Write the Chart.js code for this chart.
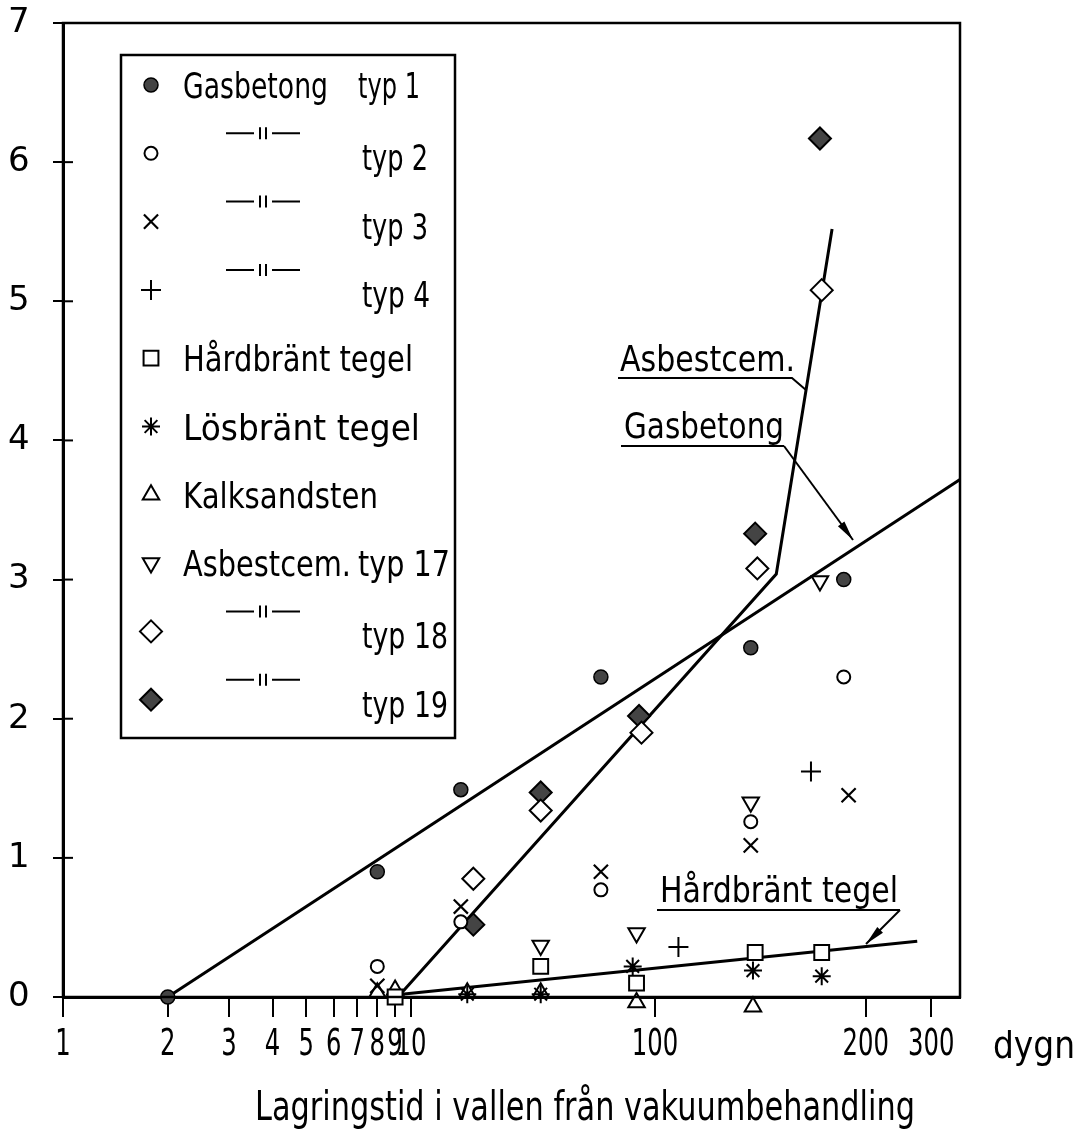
<!DOCTYPE html>
<html>
<head>
<meta charset="utf-8">
<script src="https://cdn.jsdelivr.net/npm/chart.js@4.4.1/dist/chart.umd.min.js"></script>
<style>
  html, body { margin: 0; padding: 0; background: #fff; }
  #wrap { width: 1081px; height: 1139px; position: relative; }
</style>
</head>
<body>
<div id="wrap"><canvas id="myChart"></canvas></div>
<script>
// x = days (dygn), y =
const gasTyp1Days = [2, 8, 16, 60, 137, 186];
const gasTyp1 = [0, 0.9, 1.49, 2.3, 2.51, 3.0];
const gasTyp2Days = [8, 16, 60, 137, 186];
const gasTyp2 = [0.22, 0.54, 0.77, 1.26, 2.3];
const gasTyp3Days = [8, 16, 60, 137, 189];
const gasTyp3 = [0.08, 0.65, 0.9, 1.09, 1.45];
const gasTyp4Days = [108, 167];
const gasTyp4 = [0.36, 1.62];
const hardDays = [9, 34, 84, 139, 173];
const hard = [0.0, 0.22, 0.1, 0.32, 0.32];
const losDays = [17, 34, 81, 138, 173];
const los = [0.02, 0.02, 0.22, 0.19, 0.15];
const kalkDays = [8, 9, 17, 34, 84, 138, 173];
const kalk = [0.03, 0.05, 0.03, 0.03, -0.04, -0.07, -0.17];
const asb17Days = [34, 84, 137, 172];
const asb17 = [0.37, 0.46, 1.4, 2.99];
const asb18Days = [18, 34, 88, 140, 173];
const asb18 = [0.85, 1.34, 1.9, 3.08, 5.08];
const asb19Days = [18, 34, 86, 139, 172];
const asb19 = [0.52, 1.47, 2.02, 3.33, 6.17];

// drawn trend lines
const gasLineDays = [2, 360];
const gasLine = [0, 3.72];
const asbLineDays = [9.4, 149, 179];
const asbLine = [0.03, 3.04, 5.52];
const hardLineDays = [9.4, 275];
const hardLine = [0.02, 0.40];

const tickDays = [1, 2, 3, 4, 5, 6, 7, 8, 9, 10, 100, 200, 300];
const yTicks = [0, 1, 2, 3, 4, 5, 6, 7];

const hand = "'DejaVu Sans', 'Noto Sans', sans-serif";

// the hand drawn log axis is not evenly spaced per decade, so map it piecewise
const axisLog = [0, 1, 2, Math.log10(200), Math.log10(300), Math.log10(360)];
const axisFrac = [0, 0.388, 0.660, 0.895, 0.968, 1];
const labelSqueeze = 0.64;

function dayToFrac(v) {
  const l = Math.log10(v);
  for (let i = 1; i < axisLog.length; i++) {
    if (l <= axisLog[i] || i === axisLog.length - 1) {
      const t = (l - axisLog[i - 1]) / (axisLog[i] - axisLog[i - 1]);
      return axisFrac[i - 1] + t * (axisFrac[i] - axisFrac[i - 1]);
    }
  }
}
function fracToDay(f) {
  for (let i = 1; i < axisFrac.length; i++) {
    if (f <= axisFrac[i] || i === axisFrac.length - 1) {
      const t = (f - axisFrac[i - 1]) / (axisFrac[i] - axisFrac[i - 1]);
      return Math.pow(10, axisLog[i - 1] + t * (axisLog[i] - axisLog[i - 1]));
    }
  }
}

class HandLogScale extends Chart.LogarithmicScale {
  getPixelForValue(value) {
    if (value === undefined || value === null || !(value > 0)) return this.getPixelForDecimal(0);
    return this.getPixelForDecimal(dayToFrac(value));
  }
  getValueForPixel(pixel) {
    return fracToDay(this.getDecimalForPixel(pixel));
  }
  // tall narrow lettering like the drawing
  drawLabels(chartArea) {
    const ctx = this.ctx;
    for (const item of this.getLabelItems(chartArea)) {
      const o = item.options;
      ctx.save();
      ctx.translate(o.translation[0], o.translation[1]);
      ctx.scale(labelSqueeze, 1);
      ctx.font = item.font.string;
      ctx.fillStyle = o.color;
      ctx.textAlign = o.textAlign;
      ctx.textBaseline = o.textBaseline;
      ctx.fillText(item.label, 0, item.textOffset);
      ctx.restore();
    }
  }
}
HandLogScale.id = 'handlog';
HandLogScale.defaults = Chart.LogarithmicScale.defaults;
Chart.register(HandLogScale);

function pairs(xs, ys) {
  return xs.map((x, i) => ({ x: x, y: ys[i] }));
}

function markers(label, xs, ys, style, extra) {
  return Object.assign({
    label: label,
    data: pairs(xs, ys),
    pointStyle: style,
    pointRadius: 9,
    pointBorderWidth: 2,
    pointBorderColor: '#000',
    pointBackgroundColor: '#fff',
    pointRotation: 0,
    showLine: false,
    clip: false
  }, extra || {});
}

function trend(label, xs, ys) {
  return {
    label: label,
    data: pairs(xs, ys),
    showLine: true,
    borderColor: '#000',
    borderWidth: 3,
    pointRadius: 0,
    pointHoverRadius: 0,
    clip: false
  };
}

// legend rows: text and the width it takes in the drawing
const legendRows = [
  { name: 'Gasbetong', nameW: 145, typ: 'typ 1', typW: 62 },
  { ditto: true, typ: 'typ 2', typW: 66 },
  { ditto: true, typ: 'typ 3', typW: 66 },
  { ditto: true, typ: 'typ 4', typW: 68 },
  { name: 'Hårdbränt tegel', nameW: 230 },
  { name: 'Lösbränt tegel', nameW: 237 },
  { name: 'Kalksandsten', nameW: 195 },
  { name: 'Asbestcem.', nameW: 168, typ: 'typ 17', typW: 92 },
  { ditto: true, typ: 'typ 18', typW: 86 },
  { ditto: true, typ: 'typ 19', typW: 86 }
];

function fitText(ctx, str, x, y, width, size, align) {
  ctx.save();
  ctx.font = size + 'px ' + hand;
  const sx = width / ctx.measureText(str).width;
  ctx.translate(align === 'center' ? x - width / 2 : x, y);
  ctx.scale(sx, 1);
  ctx.textAlign = 'left';
  ctx.fillText(str, 0, 0);
  ctx.restore();
}

function arrow(ctx, x1, y1, x2, y2) {
  ctx.beginPath();
  ctx.moveTo(x1, y1);
  ctx.lineTo(x2, y2);
  ctx.stroke();
  const a = Math.atan2(y2 - y1, x2 - x1);
  const len = 20, w = 4;
  ctx.beginPath();
  ctx.moveTo(x2, y2);
  ctx.lineTo(x2 - len * Math.cos(a) + w * Math.sin(a), y2 - len * Math.sin(a) - w * Math.cos(a));
  ctx.lineTo(x2 - len * Math.cos(a) - w * Math.sin(a), y2 - len * Math.sin(a) + w * Math.cos(a));
  ctx.closePath();
  ctx.fill();
}

const sketchPlugin = {
  id: 'sketch',
  afterDraw(chart) {
    const ctx = chart.ctx;
    const area = chart.chartArea;
    const ys = chart.scales.y;
    ctx.save();
    ctx.strokeStyle = '#000';
    ctx.fillStyle = '#000';

    // frame
    ctx.lineWidth = 2.5;
    ctx.strokeRect(area.left, area.top, area.right - area.left, area.bottom - area.top);

    // inner half of y ticks
    ctx.lineWidth = 2;
    for (let v = 1; v <= 6; v++) {
      const py = ys.getPixelForValue(v);
      ctx.beginPath();
      ctx.moveTo(area.left, py);
      ctx.lineTo(area.left + 10, py);
      ctx.stroke();
    }

    ctx.textBaseline = 'alphabetic';
    // unit and axis title
    fitText(ctx, 'dygn', 993, 1058, 82, 38);
    fitText(ctx, 'Lagringstid i vallen från vakuumbehandling', 585, 1120, 660, 40, 'center');

    // legend box
    ctx.lineWidth = 2.5;
    ctx.strokeRect(121, 55, 334, 683);
    legendRows.forEach((row, i) => {
      const yc = 85 + i * 68.3;
      const ds = chart.data.datasets[i];
      ctx.fillStyle = ds.pointBackgroundColor;
      ctx.strokeStyle = ds.pointBorderColor;
      ctx.lineWidth = ds.pointBorderWidth;
      Chart.helpers.drawPoint(ctx, {
        pointStyle: ds.pointStyle,
        rotation: ds.pointRotation,
        radius: ds.pointRadius,
        borderWidth: ds.pointBorderWidth
      }, 151, yc);
      ctx.fillStyle = '#000';
      ctx.strokeStyle = '#000';
      if (row.name) fitText(ctx, row.name, 183, yc + 13, row.nameW, 36);
      if (row.ditto) {
        ctx.lineWidth = 2;
        const dy = yc - 20;
        ctx.beginPath();
        ctx.moveTo(226, dy); ctx.lineTo(254, dy);
        ctx.moveTo(272, dy); ctx.lineTo(300, dy);
        ctx.moveTo(260, dy - 6); ctx.lineTo(260, dy + 6);
        ctx.moveTo(266, dy - 6); ctx.lineTo(266, dy + 6);
        ctx.stroke();
      }
      if (row.typ) fitText(ctx, row.typ, row.ditto ? 362 : 358, yc + (row.ditto ? 17 : 13), row.typW, 36);
    });

    // annotations
    ctx.lineWidth = 2;
    fitText(ctx, 'Asbestcem.', 620, 371, 175, 36);
    ctx.beginPath();
    ctx.moveTo(618, 378); ctx.lineTo(792, 378); ctx.lineTo(806, 390);
    ctx.stroke();

    fitText(ctx, 'Gasbetong', 624, 438, 160, 36);
    ctx.beginPath();
    ctx.moveTo(621, 446); ctx.lineTo(784, 446);
    ctx.stroke();
    arrow(ctx, 784, 446, 853, 540);

    fitText(ctx, 'Hårdbränt tegel', 660, 902, 238, 36);
    ctx.beginPath();
    ctx.moveTo(657, 910); ctx.lineTo(900, 910);
    ctx.stroke();
    arrow(ctx, 900, 910, 866, 944);

    ctx.restore();
  }
};

const ctx = document.getElementById('myChart');

new Chart(ctx, {
  type: 'scatter',
  data: {
    datasets: [
      markers('Gasbetong typ 1', gasTyp1Days, gasTyp1, 'circle', { pointRadius: 7, pointBackgroundColor: '#444', pointBorderWidth: 1.5 }),
      markers('Gasbetong typ 2', gasTyp2Days, gasTyp2, 'circle', { pointRadius: 6.5 }),
      markers('Gasbetong typ 3', gasTyp3Days, gasTyp3, 'crossRot', { pointRadius: 10, pointBorderWidth: 2.2 }),
      markers('Gasbetong typ 4', gasTyp4Days, gasTyp4, 'cross', { pointRadius: 10 }),
      markers('Hårdbränt tegel', hardDays, hard, 'rect', { pointRadius: 10.5 }),
      markers('Lösbränt tegel', losDays, los, 'star', { pointRadius: 9 }),
      markers('Kalksandsten', kalkDays, kalk, 'triangle', { pointRadius: 9.5 }),
      markers('Asbestcem. typ 17', asb17Days, asb17, 'triangle', { pointRadius: 9.5, pointRotation: 180 }),
      markers('Asbestcem. typ 18', asb18Days, asb18, 'rectRot', { pointRadius: 11 }),
      markers('Asbestcem. typ 19', asb19Days, asb19, 'rectRot', { pointRadius: 11, pointBackgroundColor: '#444' }),
      trend('Gasbetong', gasLineDays, gasLine),
      trend('Asbestcem.', asbLineDays, asbLine),
      trend('Hårdbränt tegel', hardLineDays, hardLine)
    ]
  },
  options: {
    responsive: true,
    maintainAspectRatio: false,
    animation: false,
    layout: { padding: { left: 8, top: 23, right: 121, bottom: 94 } },
    plugins: {
      legend: { display: false },
      tooltip: { enabled: false }
    },
    scales: {
      x: {
        type: 'handlog',
        min: 1,
        max: 360,
        afterBuildTicks: (scale) => { scale.ticks = tickDays.map(v => ({ value: v })); },
        afterFit: (scale) => { scale.height = 48; },
        border: { display: true, color: '#000', width: 3 },
        grid: { drawOnChartArea: false, color: '#000', lineWidth: 2, tickLength: 20 },
        ticks: {
          autoSkip: false,
          maxRotation: 0,
          padding: 5,
          color: '#000',
          font: { family: hand, size: 38 },
          callback: (v) => String(v)
        }
      },
      y: {
        min: 0,
        max: 7,
        afterBuildTicks: (scale) => { scale.ticks = yTicks.map(v => ({ value: v })); },
        afterFit: (scale) => { scale.width = 55; },
        border: { display: true, color: '#000', width: 3 },
        grid: { drawOnChartArea: false, color: '#000', lineWidth: 2, tickLength: 10 },
        ticks: {
          padding: 0,
          crossAlign: 'far',
          color: '#000',
          font: { family: hand, size: 34 }
        }
      }
    }
  },
  plugins: [sketchPlugin]
});
</script>
</body>
</html>
